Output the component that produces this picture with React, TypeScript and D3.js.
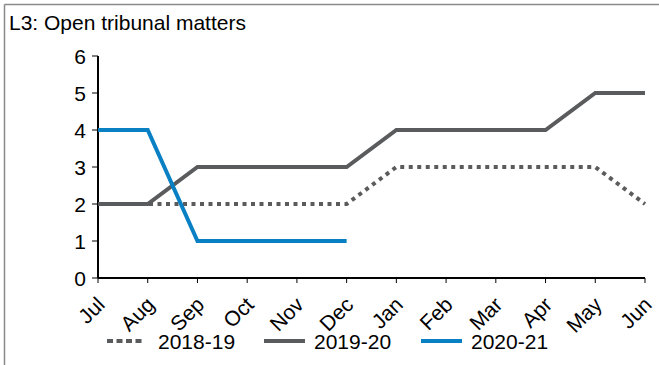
import React from "react";
import * as d3 from "d3";

const months = ["Jul", "Aug", "Sep", "Oct", "Nov", "Dec", "Jan", "Feb", "Mar", "Apr", "May", "Jun"];
const yTicks = [0, 1, 2, 3, 4, 5, 6];
const s2018 = [2, 2, 2, 2, 2, 2, 3, 3, 3, 3, 3, 2];
const s2019 = [2, 2, 3, 3, 3, 3, 4, 4, 4, 4, 5, 5];
const s2020 = [4, 4, 1, 1, 1, 1];
const seriesNames = ["2018-19", "2019-20", "2020-21"];

const W = 659, H = 365;
const FONT = "'Liberation Sans', Arial, sans-serif";

export default function App() {
  const x = d3.scalePoint<string>().domain(months).range([98, 645]);
  const y = d3.scaleLinear().domain([0, 6]).range([278, 56]);
  const line = d3.line<number>().x((_, i) => x(months[i])!).y((d) => y(d));

  const series = [
    { name: seriesNames[0], data: s2018, color: "#5a5b5d", dash: "4,4.5" },
    { name: seriesNames[1], data: s2019, color: "#5a5b5d", dash: undefined },
    { name: seriesNames[2], data: s2020, color: "#0a80c4", dash: undefined },
  ];
  const legendX = [107, 264, 421];

  return (
    <svg width={W} height={H} style={{ position: "absolute", left: 0, top: 0, background: "#fff" }}>
      <line x1={4.5} y1={4.5} x2={W} y2={4.5} stroke="#8a8a8a" strokeWidth={1.5} />
      <line x1={4.5} y1={4.5} x2={4.5} y2={H} stroke="#8a8a8a" strokeWidth={1.5} />
      <text x={9} y={30} fontFamily={FONT} fontSize={21} fill="#000">L3: Open tribunal matters</text>

      {/* y axis */}
      <line x1={98} y1={y(6)} x2={98} y2={y(0)} stroke="#000" strokeWidth={2} />
      {yTicks.map((t) => (
        <g key={t}>
          <line x1={92} x2={98} y1={y(t)} y2={y(t)} stroke="#000" strokeWidth={1} />
          <text x={86} y={y(t) + 7.5} textAnchor="end" fontFamily={FONT} fontSize={21}>{t}</text>
        </g>
      ))}
      {/* x axis */}
      <line x1={98} y1={y(0)} x2={645} y2={y(0)} stroke="#000" strokeWidth={2} />
      {months.map((m) => (
        <g key={m}>
          <line x1={x(m)} x2={x(m)} y1={y(0)} y2={y(0) + 5} stroke="#000" strokeWidth={1} />
          <text
            transform={`translate(${x(m)! + 8},${y(0) + 28}) rotate(-45)`}
            textAnchor="end"
            fontFamily={FONT}
            fontSize={21}
          >{m}</text>
        </g>
      ))}

      {series.map((s) => (
        <path key={s.name} d={line(s.data)!} fill="none" stroke={s.color} strokeWidth={4}
          strokeDasharray={s.dash} strokeLinejoin="miter" />
      ))}

      {series.map((s, i) => (
        <g key={s.name}>
          <line x1={legendX[i]} x2={legendX[i] + 36 + (s.dash ? 0 : 5)} y1={341} y2={341}
            stroke={s.color} strokeWidth={4} strokeDasharray={s.dash ? "6,3.5" : undefined} />
          <text x={legendX[i] + (s.dash ? 51 : 50)} y={349} fontFamily={FONT} fontSize={21}>{s.name}</text>
        </g>
      ))}
    </svg>
  );
}
